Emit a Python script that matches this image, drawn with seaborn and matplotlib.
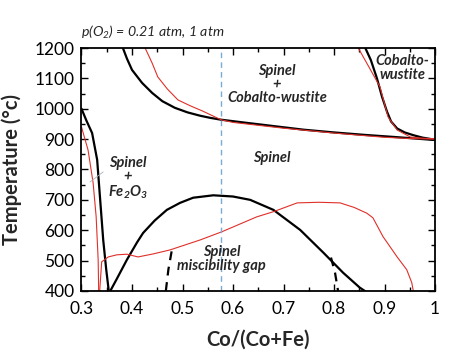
import numpy as np
import matplotlib
matplotlib.use("Agg")
import matplotlib.pyplot as plt
import seaborn as sns

# black boundaries (p(O2) = 0.21 atm)
blk_upper_x = [0.382, 0.39, 0.40, 0.42, 0.44, 0.46, 0.485, 0.51, 0.535, 0.555, 0.576,
               0.62, 0.68, 0.74, 0.80, 0.86, 0.92, 0.96, 1.0]
blk_upper_t = [1200, 1165, 1128, 1085, 1052, 1025, 1003, 988, 977, 970, 964,
               955, 943, 931, 922, 914, 907, 902, 897]
blk_right_x = [0.862, 0.873, 0.885, 0.895, 0.905, 0.913, 0.925, 0.94, 0.957, 0.975, 1.0]
blk_right_t = [1200, 1160, 1100, 1040, 990, 958, 935, 922, 913, 905, 898]
blk_left_x = [0.30, 0.31, 0.321, 0.331, 0.337, 0.343, 0.349, 0.354]
blk_left_t = [1000, 960, 920, 832, 700, 568, 470, 400]
blk_dome_x = [0.357, 0.37, 0.39, 0.41, 0.422, 0.445, 0.469, 0.495, 0.521, 0.561, 0.60,
              0.634, 0.68, 0.733, 0.779, 0.818, 0.851, 0.861]
blk_dome_t = [400, 440, 503, 560, 591, 632, 667, 690, 707, 715, 711,
              700, 667, 601, 526, 460, 411, 400]
dash_left_x = [0.467, 0.472, 0.48]
dash_left_t = [400, 470, 545]
dash_right_x = [0.794, 0.802, 0.808]
dash_right_t = [510, 460, 400]

# red boundaries (p(O2) = 1 atm)
red_upper_x = [0.426, 0.44, 0.451, 0.47, 0.491, 0.515, 0.539, 0.576,
               0.60, 0.70, 0.80, 0.90, 0.95, 1.0]
red_upper_t = [1200, 1150, 1105, 1065, 1029, 1010, 993, 964,
               955, 936, 920, 906, 902, 900]
red_right_x = [0.848, 0.87, 0.891, 0.907, 0.925, 0.951, 0.975, 1.0]
red_right_t = [1200, 1135, 1072, 973, 930, 907, 903, 901]
red_left_x = [0.30, 0.313, 0.323, 0.329, 0.333, 0.334]
red_left_t = [940, 864, 756, 645, 503, 400]
red_low_x = [0.336, 0.34, 0.353, 0.37, 0.39, 0.412, 0.442, 0.475, 0.535, 0.578,
             0.647, 0.68, 0.727, 0.77, 0.812, 0.84, 0.865, 0.877, 0.897, 0.925,
             0.944, 0.954, 0.957]
red_low_t = [400, 496, 512, 519, 521, 512, 522, 535, 568, 595,
             644, 661, 690, 692, 690, 675, 656, 641, 579, 512,
             470, 427, 400]

blue_x = 0.576
leader_x = [0.317, 0.343]
leader_t = [759, 792]

sns.set_style("ticks")
plt.rcParams['font.family'] = ['Lato', 'DejaVu Sans']
plt.rcParams['mathtext.fontset'] = 'custom'
plt.rcParams['mathtext.rm'] = 'Lato:italic'
plt.rcParams['mathtext.it'] = 'Lato:italic'
plt.rcParams['mathtext.bf'] = 'Lato:italic:bold'

fig = plt.figure(figsize=(4.62, 3.57), dpi=100)
ax = fig.add_axes([0.1764, 0.185, 0.7652, 0.6805])

blk = dict(color='black', lw=1.6, sort=False, estimator=None, ax=ax)
red = dict(color='#e0302a', lw=0.8, sort=False, estimator=None, ax=ax)

sns.lineplot(x=blk_upper_x, y=blk_upper_t, **blk)
sns.lineplot(x=blk_right_x, y=blk_right_t, **blk)
sns.lineplot(x=blk_left_x, y=blk_left_t, **blk)
sns.lineplot(x=blk_dome_x, y=blk_dome_t, **blk)
for dx, dt in [(dash_left_x, dash_left_t), (dash_right_x, dash_right_t)]:
    sns.lineplot(x=dx, y=dt, color='black', lw=1.6, sort=False, estimator=None,
                 ax=ax, linestyle=(0, (4, 3)))

sns.lineplot(x=red_upper_x, y=red_upper_t, **red)
sns.lineplot(x=red_right_x, y=red_right_t, **red)
sns.lineplot(x=red_left_x, y=red_left_t, **red)
sns.lineplot(x=red_low_x, y=red_low_t, **red)

ax.axvline(blue_x, color='#7aaad6', lw=1.0, linestyle=(0, (4, 3)))
sns.lineplot(x=leader_x, y=leader_t, color='#a9b4be', lw=0.6, sort=False,
             estimator=None, ax=ax)

ax.set_xlim(0.3, 1.0)
ax.set_ylim(400, 1200)
ax.set_xticks(np.arange(0.3, 1.01, 0.1))
ax.set_xticklabels(['0.3', '0.4', '0.5', '0.6', '0.7', '0.8', '0.9', '1'])
ax.set_yticks(np.arange(400, 1201, 100))
ax.set_xticks(np.arange(0.35, 1.0, 0.1), minor=True)
ax.set_yticks(np.arange(450, 1200, 100), minor=True)
ax.tick_params(which='both', direction='in', top=True, right=True,
               labelsize=12.5, colors='black')
ax.tick_params(axis='x', pad=7)
ax.tick_params(axis='y', pad=5)
ax.tick_params(which='major', length=5, width=1)
ax.tick_params(which='minor', length=3, width=1)
for s in ax.spines.values():
    s.set_linewidth(1.3)
    s.set_color('black')

ax.set_xlabel('Co/(Co+Fe)', fontsize=14.5, fontweight='bold', labelpad=9)
ax.set_ylabel('Temperature (°c)', fontsize=14.5, fontweight='bold', labelpad=9)
ax.text(0.0, 1.03, r'p(O$_2$) = 0.21 atm, 1 atm', transform=ax.transAxes,
        fontsize=10.2, style='italic', ha='left', va='bottom')

lab = dict(fontsize=10.5, fontweight='bold', style='italic', ha='center',
           va='center', linespacing=0.95)
ax.text(0.687, 1080, 'Spinel\n+\nCobalto-wustite', **lab)
ax.text(0.935, 1134, 'Cobalto-\nwustite', **lab)
ax.text(0.677, 838, 'Spinel', **lab)
ax.text(0.392, 770, 'Spinel\n+\nFe$_\\mathbf{2}$O$_\\mathbf{3}$', **lab)
ax.text(0.577, 505, 'Spinel\nmiscibility gap', **lab)

fig.savefig('out.png', dpi=100)
